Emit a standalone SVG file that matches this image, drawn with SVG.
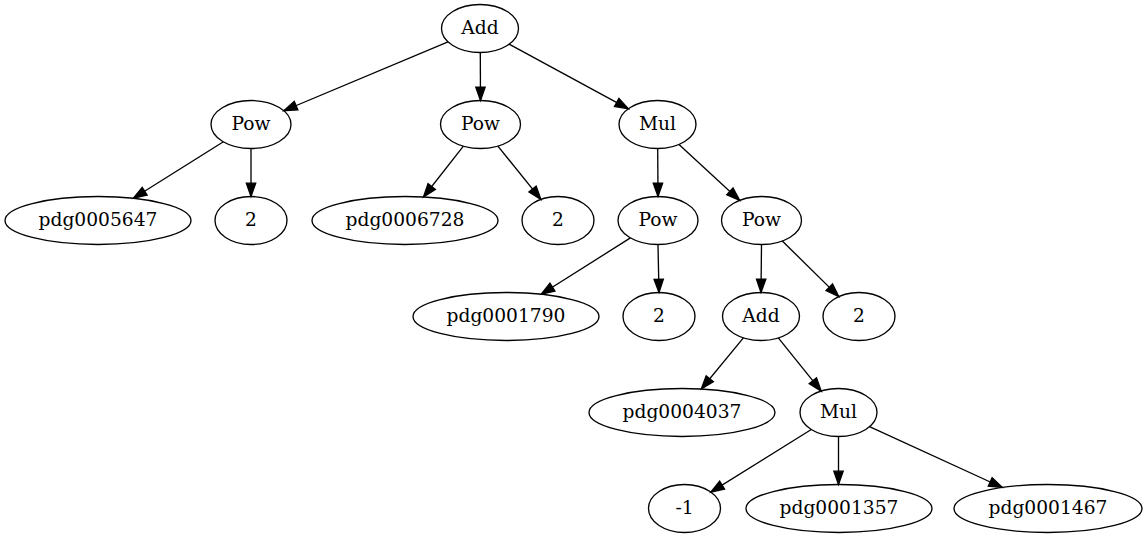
<svg xmlns="http://www.w3.org/2000/svg" width="1145" height="539" viewBox="0 0 1145 539">
<style>
ellipse{fill:none;stroke:#000;stroke-width:1.33}
text{font-family:"DejaVu Serif","Liberation Serif",serif;font-size:18.67px;text-anchor:middle;fill:#000}
.e line{stroke:#000;stroke-width:1.33;marker-end:url(#a)}
</style>
<defs>
<marker id="a" markerUnits="userSpaceOnUse" markerWidth="14" markerHeight="10" refX="13.3" refY="4.67" orient="auto" overflow="visible">
<path d="M0,0L13.3,4.67L0,9.33z" fill="#000" stroke="#000" stroke-width="1.33"/>
</marker>
</defs>
<rect width="1145" height="539" fill="#fff"/>
<g class="e" id="edges">
<line x1="448" y1="41.9" x2="283.8" y2="110.75"/>
<line x1="480.3" y1="52.5" x2="480.5" y2="100.5"/>
<line x1="509.1" y1="44.2" x2="628.4" y2="108.8"/>
<line x1="223.4" y1="141.8" x2="133.4" y2="198.3"/>
<line x1="251" y1="148.5" x2="251" y2="196.5"/>
<line x1="463.4" y1="146.2" x2="423.5" y2="197"/>
<line x1="497.9" y1="146.1" x2="540.9" y2="199.4"/>
<line x1="657.7" y1="148.5" x2="658" y2="196.5"/>
<line x1="679" y1="144.4" x2="739.7" y2="200.4"/>
<line x1="630.4" y1="237.9" x2="541.2" y2="294.3"/>
<line x1="658" y1="244.5" x2="659" y2="292.5"/>
<line x1="761.5" y1="244.5" x2="761" y2="292.5"/>
<line x1="782.3" y1="241" x2="838.8" y2="296.6"/>
<line x1="743.4" y1="337.9" x2="701.3" y2="389"/>
<line x1="778.3" y1="337.9" x2="821.2" y2="391.1"/>
<line x1="811.3" y1="429.5" x2="710.8" y2="492.1"/>
<line x1="838.5" y1="436.5" x2="838.5" y2="484.5"/>
<line x1="869.5" y1="426.7" x2="1002.3" y2="487.5"/>
</g>
<g id="n0"><ellipse cx="480" cy="28.5" rx="38.5" ry="24"/><text x="480" y="34">Add</text></g>
<g id="n1"><ellipse cx="251" cy="124.5" rx="40" ry="24"/><text x="251" y="130">Pow</text></g>
<g id="n2"><ellipse cx="480.5" cy="124.5" rx="40" ry="24"/><text x="480.5" y="130">Pow</text></g>
<g id="n3"><ellipse cx="657.5" cy="124.5" rx="38.5" ry="24"/><text x="657.5" y="130">Mul</text></g>
<g id="n4"><ellipse cx="98" cy="220.5" rx="93" ry="24"/><text x="98" y="226">pdg0005647</text></g>
<g id="n5"><ellipse cx="251" cy="220.5" rx="36" ry="24"/><text x="251" y="226">2</text></g>
<g id="n6"><ellipse cx="405" cy="220.5" rx="93" ry="24"/><text x="405" y="226">pdg0006728</text></g>
<g id="n7"><ellipse cx="558" cy="220.5" rx="36" ry="24"/><text x="558" y="226">2</text></g>
<g id="n8"><ellipse cx="658" cy="220.5" rx="40" ry="24"/><text x="658" y="226">Pow</text></g>
<g id="n9"><ellipse cx="761.5" cy="220.5" rx="40" ry="24"/><text x="761.5" y="226">Pow</text></g>
<g id="n10"><ellipse cx="506" cy="316.5" rx="93" ry="24"/><text x="506" y="322">pdg0001790</text></g>
<g id="n11"><ellipse cx="659" cy="316.5" rx="36" ry="24"/><text x="659" y="322">2</text></g>
<g id="n12"><ellipse cx="761" cy="316.5" rx="38.5" ry="24"/><text x="761" y="322">Add</text></g>
<g id="n13"><ellipse cx="859" cy="316.5" rx="36" ry="24"/><text x="859" y="322">2</text></g>
<g id="n14"><ellipse cx="682" cy="412.5" rx="93" ry="24"/><text x="682" y="418">pdg0004037</text></g>
<g id="n15"><ellipse cx="838.5" cy="412.5" rx="38.5" ry="24"/><text x="838.5" y="418">Mul</text></g>
<g id="n16"><ellipse cx="684.5" cy="508.5" rx="36" ry="24"/><text x="684.5" y="514">-1</text></g>
<g id="n17"><ellipse cx="839" cy="508.5" rx="93" ry="24"/><text x="839" y="514">pdg0001357</text></g>
<g id="n18"><ellipse cx="1048" cy="508.5" rx="94" ry="24"/><text x="1048" y="514">pdg0001467</text></g>
</svg>
